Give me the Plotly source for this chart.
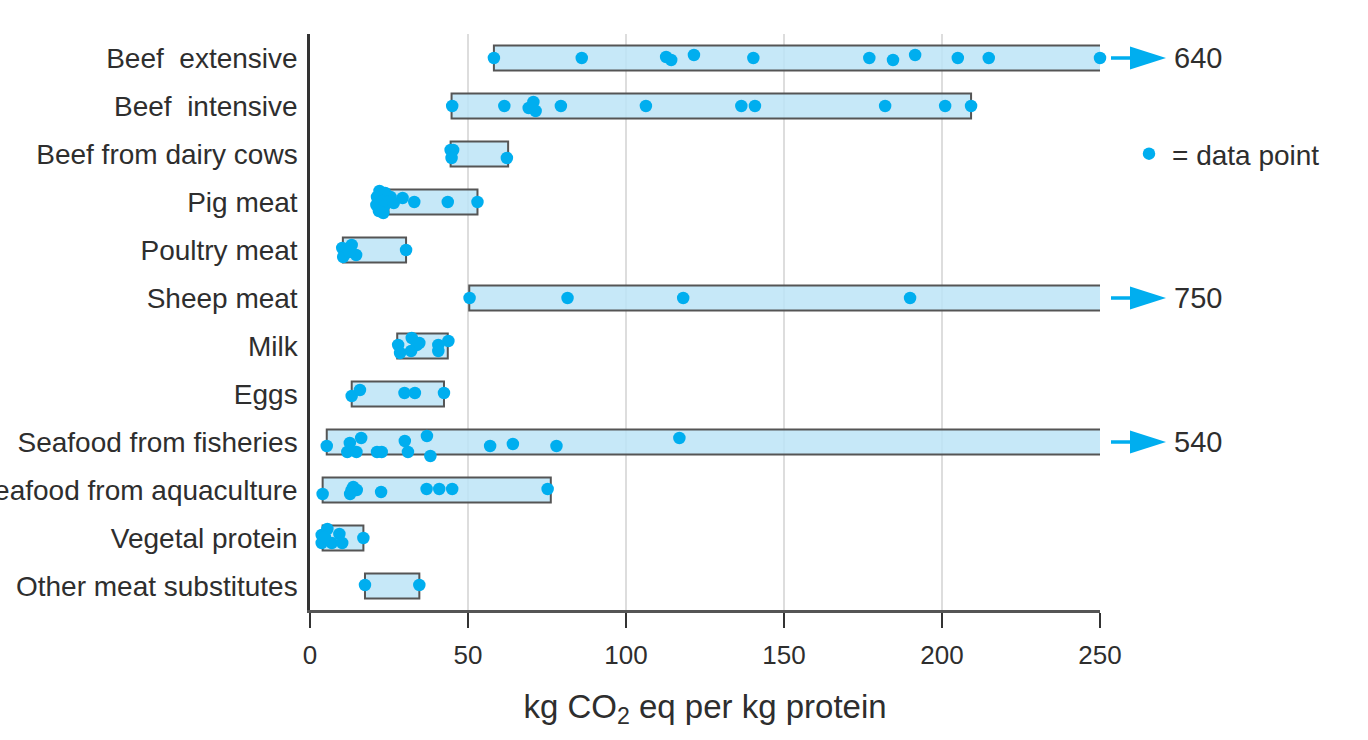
import plotly.graph_objects as go

# Food categories, top to bottom
categories = [
    "Beef\u00a0 extensive", "Beef\u00a0 intensive", "Beef from dairy cows", "Pig meat",
    "Poultry meat", "Sheep meat", "Milk", "Eggs", "Seafood from fisheries",
    "Seafood from aquaculture", "Vegetal protein", "Other meat substitutes",
]

# Range of each category (kg CO2 eq per kg protein)
range_low = [58.2, 44.8, 44.5, 24.8, 10.4, 50.4, 27.6, 13.2, 5.3, 4.0, 4.0, 17.4]
range_high = [640, 209.2, 62.7, 53.0, 30.4, 750, 43.6, 42.4, 540, 76.2, 16.9, 34.6]

# Individual study values per category
beef_extensive = [58.2, 86.0, 112.7, 114.3, 121.5, 140.3, 177.0, 184.5, 191.5, 205.0, 214.8, 640]
beef_intensive = [45.0, 61.5, 69.2, 70.7, 71.4, 79.4, 106.3, 136.5, 140.8, 182.0, 201.0, 209.2]
beef_dairy = [44.5, 45.3, 44.8, 62.3]
pig_meat = [22.0, 23.8, 21.2, 25.5, 22.8, 24.5, 21.0, 23.5, 26.5, 21.8, 23.2, 29.3, 33.0, 43.6, 53.0]
poultry_meat = [10.2, 13.2, 10.5, 14.6, 12.4, 30.4]
sheep_meat = [50.5, 81.5, 118.1, 189.9]
milk = [27.9, 28.5, 32.2, 32.0, 33.8, 34.6, 40.6, 40.6, 43.8]
eggs = [13.2, 15.8, 29.9, 33.2, 42.4]
seafood_fisheries = [5.3, 12.6, 16.2, 11.8, 14.7, 21.2, 22.7, 30.0, 31.0, 37.0, 38.1, 57.0, 64.2, 78.0, 116.9]
seafood_aquaculture = [4.0, 12.7, 13.7, 14.8, 13.2, 22.5, 36.9, 40.9, 45.0, 75.2]
vegetal_protein = [3.7, 5.5, 3.7, 6.9, 9.3, 10.2, 4.7, 16.9]
meat_substitutes = [17.4, 34.6]

points = [beef_extensive, beef_intensive, beef_dairy, pig_meat, poultry_meat, sheep_meat,
          milk, eggs, seafood_fisheries, seafood_aquaculture, vegetal_protein, meat_substitutes]

# Vertical jitter (pixels) so overlapping dots stay visible
jitter_px = [
    [0, 0, -1, 2, -3, 0, 0, 2, -3, 0, 0, 0],
    [0, 0, 2, -4, 5, 0, 0, 0, 0, 0, 0, 0],
    [-4, -4, 4, 4],
    [-11, -9, -5, -5, -1, 0, 3, 4, 1, 9, 11, -4, 0, 0, 0],
    [-2, -5, 7, 5, 2, 0],
    [0, 0, 0, 0],
    [-1, 7, -8, 5, -1, -3, -1, 5, -5],
    [2, -4, -1, -1, -1],
    [4, 1, -4, 10, 10, 10, 10, -1, 10, -6, 14, 4, 2, 4, -4],
    [4, 4, -3, 0, 0, 2, -1, -1, -1, -1],
    [-3, -9, 5, 5, -4, 5, -1, 0],
    [-1, -1],
]

x_ticks = [0, 50, 100, 150, 200, 250]
x_max = 250

# ---- layout geometry (pixels) ----
W, H = 1368, 740
ML, MR, MT, MB = 310, 268, 34, 130
PLOT_W = W - ML - MR
ROW_PX = (H - MT - MB) / len(categories)

BLUE = "#00aeef"
FONT = "Liberation Sans, Arial, sans-serif"
TEXT = "#2e2e2e"


def px_to_paper(px):
    return (px - ML) / PLOT_W


rows = list(range(len(categories)))
fig = go.Figure()

# Range boxes
fig.add_trace(go.Bar(
    y=rows,
    base=range_low,
    x=[hi - lo for lo, hi in zip(range_low, range_high)],
    orientation="h",
    width=0.52,
    marker=dict(color="rgba(188,228,247,0.85)", line=dict(color="#555555", width=2)),
    showlegend=False,
    hoverinfo="skip",
))

# Data points
xs, ys = [], []
for r, (vals, jit) in enumerate(zip(points, jitter_px)):
    for v, j in zip(vals, jit):
        xs.append(min(v, x_max))
        ys.append(r + j / ROW_PX)

fig.add_trace(go.Scatter(
    x=xs, y=ys, mode="markers",
    marker=dict(color=BLUE, size=12.5),
    cliponaxis=False,
    name="= data point",
    showlegend=True,
))

# Arrows and labels for ranges running past the axis end
shapes = []
annotations = []
for r, hi in enumerate(range_high):
    if hi <= x_max:
        continue
    shapes.append(dict(
        type="line", xref="paper", yref="y",
        x0=px_to_paper(1111), x1=px_to_paper(1134), y0=r, y1=r,
        line=dict(color=BLUE, width=3.5),
    ))
    half = 11.5 / ROW_PX
    shapes.append(dict(
        type="path", xref="paper", yref="y",
        path=(f"M {px_to_paper(1130)},{r - half} L {px_to_paper(1166)},{r} "
              f"L {px_to_paper(1130)},{r + half} Z"),
        fillcolor=BLUE, line=dict(color=BLUE, width=0),
    ))
    annotations.append(dict(
        xref="paper", yref="y", x=px_to_paper(1172), y=r,
        text=f"{hi:g}", showarrow=False, xanchor="left", yanchor="middle",
        font=dict(family=FONT, size=29, color=TEXT),
    ))

fig.update_layout(
    width=W, height=H,
    margin=dict(l=ML, r=MR, t=MT, b=MB, pad=0, autoexpand=False),
    paper_bgcolor="white", plot_bgcolor="white",
    font=dict(family=FONT, size=28, color=TEXT),
    barmode="overlay",
    shapes=shapes,
    annotations=annotations,
    legend=dict(
        x=px_to_paper(1126), y=1 - (154 - MT) / (H - MT - MB),
        xanchor="left", yanchor="middle",
        itemwidth=36,
        font=dict(family=FONT, size=28, color=TEXT),
        bgcolor="rgba(0,0,0,0)", borderwidth=0,
    ),
    xaxis=dict(
        range=[0, x_max], tickvals=x_ticks, ticktext=[str(t) for t in x_ticks],
        ticks="outside", ticklen=15, tickwidth=2, tickcolor="#333333",
        ticklabelstandoff=5,
        showgrid=True, gridcolor="#dddddd", gridwidth=1.5,
        showline=True, linecolor="#555555", linewidth=2.5,
        zeroline=False,
        tickfont=dict(family=FONT, size=26, color=TEXT),
        title=dict(text="kg CO<sub>2</sub> eq per kg protein",
                   font=dict(family=FONT, size=33, color=TEXT), standoff=26),
    ),
    yaxis=dict(
        range=[len(categories) - 0.5, -0.5],
        tickvals=rows, ticktext=categories,
        ticks="", showgrid=False, zeroline=False,
        showline=True, linecolor="#333333", linewidth=2.5,
        ticklabelstandoff=4,
        tickfont=dict(family=FONT, size=28, color=TEXT),
    ),
)

fig.write_html("out.html")
